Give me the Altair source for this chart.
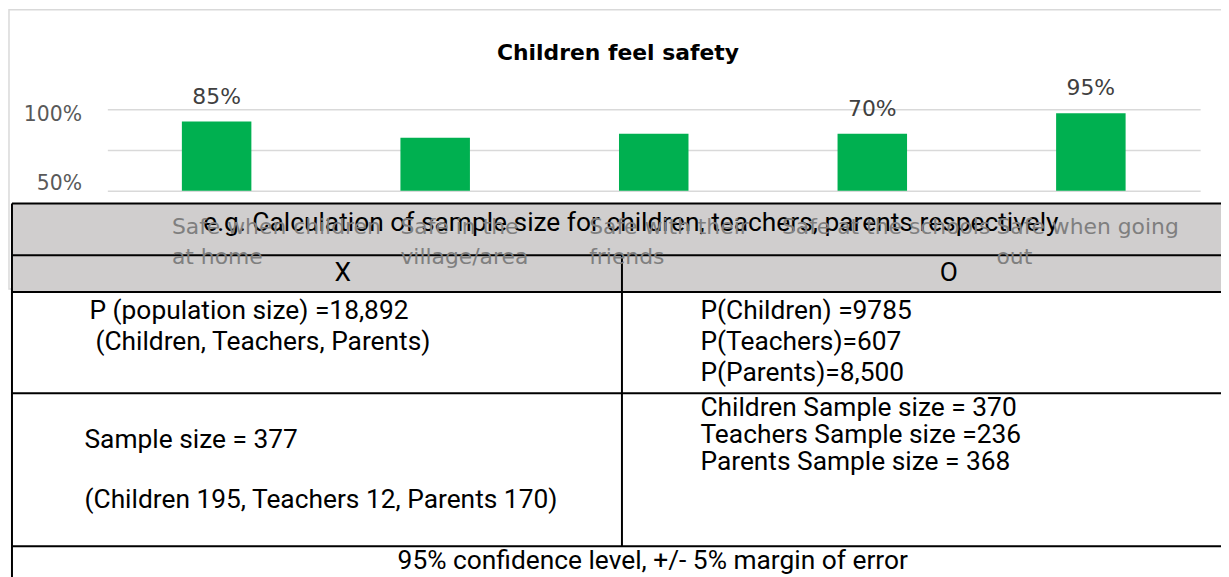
import json
import altair as alt
import pandas as pd

# ---------------- data ----------------
categories = [
    "Safe when children\nat home",
    "Safe in the\nvillage/area",
    "Safe with their\nfriends",
    "Safe at the schools",
    "Safe when going\nout",
]
values = [85, 65, 70, 70, 95]
value_labels = ["85%", "", "", "70%", "95%"]
y_grid_values = [0, 50, 100]

chart_title = "Children feel safety"
table_title = "e.g. Calculation of sample size for children, teachers, parents respectively"
col_heads = ["X", "O"]
left_pop = ["P (population size) =18,892", "(Children, Teachers, Parents)"]
right_pop = ["P(Children) =9785", "P(Teachers)=607", "P(Parents)=8,500"]
left_sample = ["Sample size = 377", "(Children 195, Teachers 12, Parents 170)"]
right_sample = ["Children Sample size = 370", "Teachers Sample size =236", "Parents Sample size = 368"]
footer = "95% confidence level, +/- 5% margin of error"

# ---------------- layout helpers ----------------
OX, OY = 108, 108  # plot-area origin in page pixels
one = pd.DataFrame({"k": [0]})
CHART_FONT = "DejaVu Sans"
TABLE_FONT = "Roboto"
TABLE_SIZE = 26.5


def X(v):
    return alt.value(v - OX)


def Y(v):
    return alt.value(v - OY)


def rule(x1, y1, x2, y2, color="#000000", w=2):
    return alt.Chart(one).mark_rule(color=color, strokeWidth=w).encode(
        x=X(x1), x2=X(x2), y=Y(y1), y2=Y(y2)
    )


def txt(s, x, y, align="left", size=TABLE_SIZE, font=TABLE_FONT, weight="normal",
        color="#000000"):
    return alt.Chart(one).mark_text(
        align=align, baseline="middle", fontSize=size, font=font,
        fontWeight=weight, color=color
    ).encode(x=X(x), y=Y(y), text=alt.value(s))


# ---------------- bar chart ----------------
df = pd.DataFrame({"category": categories, "value": values, "label": value_labels})

x_offsets = [-45, -35, -65, -91, -95]
x_label_offset = {
    "condition": [
        {"test": "datum.value == " + json.dumps(c), "value": o}
        for c, o in zip(categories, x_offsets)
    ],
    "value": 0,
}
y_label_offset = {"condition": {"test": "datum.value == 100", "value": 5}, "value": -7}

x_enc = alt.X(
    "category:N", sort=categories,
    scale=alt.Scale(paddingInner=0.682, paddingOuter=0.341),
    axis=alt.Axis(
        title=None, ticks=False, domain=False, labelAngle=0, labelAlign="left",
        labelBaseline="top",
        labelExpr="split(datum.label, '\\n')", labelFont=CHART_FONT,
        labelFontSize=22, labelColor="#7F7F7F", labelPadding=26,
        labelLineHeight=30, labelOffset=x_label_offset, labelLimit=0, zindex=1,
    ),
)
y_enc = alt.Y(
    "value:Q", scale=alt.Scale(domain=[0, 100], nice=False),
    axis=alt.Axis(
        values=y_grid_values, title=None, ticks=False, domain=False,
        labelExpr="datum.value == 100 ? '100%' : datum.value == 0 ? '50%' : ''",
        labelOffset=y_label_offset, labelFont=CHART_FONT, labelFontSize=20.5,
        labelColor="#595959", labelPadding=26, gridColor="#D9D9D9", gridWidth=1.5,
    ),
)

bars = alt.Chart(df).mark_bar(color="#00B050").encode(x=x_enc, y=y_enc)
vlabels = alt.Chart(df).mark_text(
    dy=-25, baseline="middle", fontSize=22, font=CHART_FONT, color="#404040"
).encode(x=alt.X("category:N", sort=categories), y="value:Q", text="label:N")

border = alt.Chart(one).mark_rect(
    fillOpacity=0, stroke="#D9D9D9", strokeWidth=1.5
).encode(x=X(9), x2=X(1260), y=Y(8), y2=Y(289))

title_mark = txt(chart_title, 622, 51, align="center", size=22, font=CHART_FONT,
                 weight="bold", color="#000000")

# ---------------- table ----------------
band = alt.Chart(one).mark_rect(color="#D0CECE").encode(
    x=X(12), x2=X(1260), y=Y(203), y2=Y(292)
)
rules = [rule(12, yy, 1260, yy) for yy in [203, 255, 292, 394, 548]]
rules += [rule(12, 203, 12, 600), rule(626, 255, 626, 548)]

texts = [
    txt(table_title, 635, 223, align="center"),
    txt(col_heads[0], 345, 273, align="center"),
    txt(col_heads[1], 955, 273, align="center"),
]
for s, yy, xx in zip(left_pop, [311, 342], [90, 96]):
    texts.append(txt(s, xx, yy))
for s, yy in zip(right_pop, [311, 342, 374]):
    texts.append(txt(s, 705, yy))
for s, yy in zip(left_sample, [441, 501]):
    texts.append(txt(s, 85, yy))
for s, yy in zip(right_sample, [409, 436, 463]):
    texts.append(txt(s, 705, yy))
texts.append(txt(footer, 657, 563, align="center"))

chart = alt.layer(
    border, bars, vlabels, title_mark, band, *rules, *texts
).properties(
    width=1100, height=82,
    padding={"left": 100, "top": 100, "right": 21, "bottom": 387},
    autosize=alt.AutoSizeParams(type="none"),
).configure_view(strokeWidth=0)

chart.save("out.html", embed_options={"renderer": "svg", "actions": False})
